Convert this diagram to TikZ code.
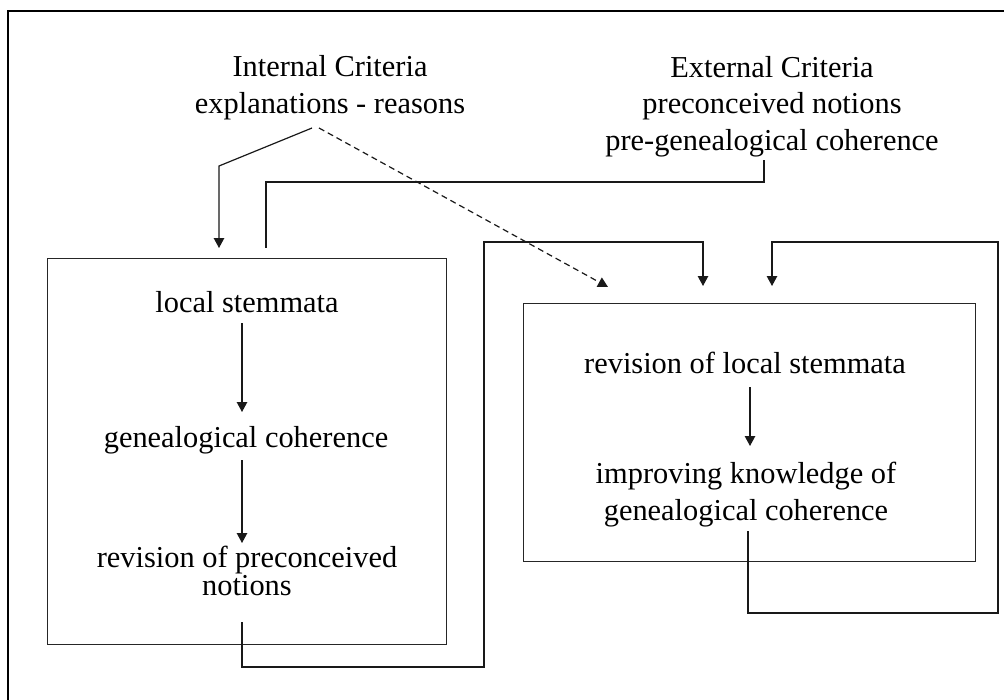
\documentclass[tikz,border=0pt]{standalone}
\usepackage{fontspec}
\setmainfont{Liberation Serif}
\usetikzlibrary{arrows.meta}
\begin{document}
\begin{tikzpicture}[x=1pt,y=-1pt,
  lbl/.style={font=\fontsize{30.4}{36.5}\selectfont, inner sep=0pt, align=center, anchor=base},
  lbltight/.style={font=\fontsize{30.4}{28}\selectfont, inner sep=0pt, align=center, anchor=base},
  conn/.style={line width=1.2pt, draw=black!90},
  tip/.style={-{Triangle[width=10.5pt,length=10pt]}},
  box/.style={draw=black!85, line width=1.3pt, inner sep=0pt, anchor=north west}]
\useasboundingbox (0,0) rectangle (1004,699);
% frame
\draw[line width=2.2pt] (8,720) -- (8,11) -- (1030,11);
% boxes
\node[box, minimum width=399pt, minimum height=386pt] (lbox) at (47,258) {};
\node[box, minimum width=452pt, minimum height=258pt] (rbox) at (523,303) {};
% top labels (base = baseline of last line)
\node[lbl] (int) at (330,113) {Internal Criteria\\explanations - reasons};
\node[lbl] (ext) at (772,150) {External Criteria\\preconceived notions\\pre-genealogical coherence};
% left box texts
\node[lbl] (ls) at (247,312) {local stemmata};
\node[lbl] (gc) at (246,447) {genealogical coherence};
\node[lbltight] (rp) at (247,595) {revision of preconceived\\notions};
% right box texts
\node[lbl] (rl) at (745,373) {revision of local stemmata};
\node[lbl] (ik) at (746,520) {improving knowledge of\\genealogical coherence};
% connector points
\coordinate (i1) at (312,128); \coordinate (i2) at (219,166); \coordinate (i3) at (219,248);
\coordinate (d1) at (319,128); \coordinate (d2) at (608,287);
\coordinate (e1) at (764,160); \coordinate (e2) at (764,182); \coordinate (e3) at (266,182); \coordinate (e4) at (266,248);
\coordinate (a1) at (242,323); \coordinate (a2) at (242,412);
\coordinate (b1) at (242,460); \coordinate (b2) at (242,543);
\coordinate (l1) at (242,622); \coordinate (l2) at (242,667); \coordinate (l3) at (484,667); \coordinate (l4) at (484,242); \coordinate (l5) at (703,242); \coordinate (l6) at (703,286);
\coordinate (c1) at (750,387); \coordinate (c2) at (750,446);
\coordinate (m1) at (748,531); \coordinate (m2) at (748,613); \coordinate (m3) at (998,613); \coordinate (m4) at (998,242); \coordinate (m5) at (772,242); \coordinate (m6) at (772,286);
% connectors
\draw[conn,tip] (i1) -- (i2) -- (i3);
\draw[conn,tip,dash pattern=on 6pt off 4pt] (d1) -- (d2);
\draw[conn] (e1) -- (e2) -- (e3) -- (e4);
\draw[conn,tip] (a1) -- (a2);
\draw[conn,tip] (b1) -- (b2);
\draw[conn,tip] (l1) -- (l2) -- (l3) -- (l4) -- (l5) -- (l6);
\draw[conn,tip] (c1) -- (c2);
\draw[conn,tip] (m1) -- (m2) -- (m3) -- (m4) -- (m5) -- (m6);
\end{tikzpicture}
\end{document}
